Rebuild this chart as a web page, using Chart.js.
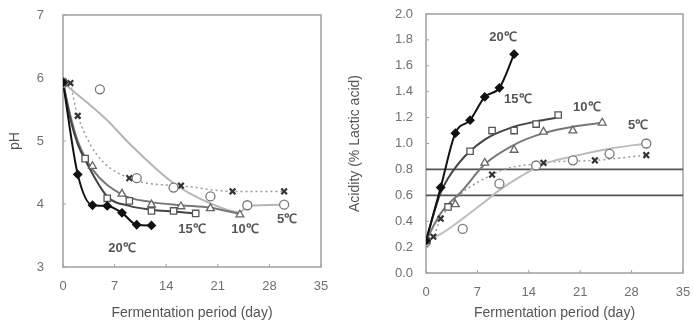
<!DOCTYPE html>
<html>
<head>
<meta charset="utf-8">
<script src="https://cdn.jsdelivr.net/npm/chart.js@4/dist/chart.umd.min.js"></script>
<style>
  body { margin: 0; background: #fff; width: 693px; height: 326px; position: relative; overflow: hidden; }
  #phBox { position: absolute; left: 0; top: 0; width: 340px; height: 326px; }
  #acBox { position: absolute; left: 340px; top: 0; width: 353px; height: 326px; }
</style>
</head>
<body>
<div id="phBox"><canvas id="phChart" width="340" height="326"></canvas></div>
<div id="acBox"><canvas id="acChart" width="353" height="326"></canvas></div>
<script>
// measured points (day, pH / acidity)
const days20 = [0, 2, 4, 6, 8, 10, 12];
const ph20 = [5.93, 4.47, 3.98, 3.97, 3.86, 3.67, 3.66];
const acid20 = [0.25, 0.66, 1.08, 1.18, 1.36, 1.43, 1.69];

const days15 = [0, 3, 6, 9, 12, 15, 18];
const ph15 = [5.93, 4.72, 4.09, 4.05, 3.89, 3.89, 3.85];
const acid15 = [0.25, 0.51, 0.94, 1.10, 1.10, 1.15, 1.22];

const days10 = [0, 4, 8, 12, 16, 20, 24];
const ph10 = [5.93, 4.60, 4.16, 3.99, 3.96, 3.93, 3.83];
const acid10 = [0.25, 0.53, 0.85, 0.95, 1.09, 1.10, 1.16];

const days5 = [0, 5, 10, 15, 20, 25, 30];
const ph5 = [5.92, 5.82, 4.41, 4.26, 4.12, 3.98, 3.99];
const acid5 = [0.24, 0.34, 0.69, 0.83, 0.87, 0.92, 1.00];

const daysX = [1, 2, 9, 16, 23, 30];
const phX = [5.92, 5.40, 4.41, 4.29, 4.20, 4.20];
const acidX = [0.28, 0.42, 0.76, 0.85, 0.87, 0.91];

// trend curves as drawn in the figure
const curveDays15ph = [0, 1, 2, 3, 6, 9, 12, 15, 18];
const curve15ph = [5.93, 5.35, 4.95, 4.70, 4.12, 3.97, 3.91, 3.88, 3.85];
const curveDays10ph = [0, 1, 2, 4, 8, 12, 16, 20, 24];
const curve10ph = [5.93, 5.40, 5.00, 4.55, 4.15, 4.03, 3.98, 3.94, 3.84];
const curveDays5ph = [0, 6, 9, 15, 20, 24, 25, 30];
const curve5ph = [5.93, 5.33, 4.96, 4.33, 4.01, 3.87, 3.97, 3.99];

const curveDays15ac = [0, 2, 4.5, 8, 12, 15, 18];
const curve15ac = [0.25, 0.62, 0.85, 1.03, 1.13, 1.17, 1.20];
const curveDays10ac = [0, 2, 5, 8, 12, 16, 20, 24];
const curve10ac = [0.25, 0.46, 0.64, 0.84, 0.99, 1.08, 1.13, 1.16];
const curveDays5ac = [0, 2, 5, 8, 10, 13, 16, 20, 25, 30];
const curve5ac = [0.25, 0.30, 0.42, 0.55, 0.64, 0.75, 0.84, 0.90, 0.96, 1.00];

const refLevels = [0.8, 0.6];

const dayTicks = [0, 7, 14, 21, 28, 35];

// temperature labels [text, day, value]
const phLabels = [['20℃', 8.0, 3.30], ['15℃', 17.5, 3.59], ['10℃', 24.7, 3.59], ['5℃', 30.4, 3.75]];
const acidLabels = [['20℃', 10.5, 1.82], ['15℃', 12.5, 1.34], ['10℃', 21.9, 1.28], ['5℃', 28.9, 1.14]];

const FONT = "'Liberation Sans', Arial, sans-serif";

function pts(xs, ys) {
    return xs.map((x, i) => ({ x: x, y: ys[i] }));
}

function markers(xs, ys, style, color, fill, r, bw) {
    return {
        data: pts(xs, ys), showLine: false, pointStyle: style,
        pointRadius: r, borderColor: color, backgroundColor: fill,
        pointBorderWidth: bw || 1.3, order: 0
    };
}

function curve(xs, ys, color, width, dash) {
    return {
        data: pts(xs, ys), showLine: true, pointRadius: 0,
        borderColor: color, borderWidth: width, borderDash: dash || [],
        cubicInterpolationMode: 'monotone', order: 5
    };
}

// box, small inner ticks and the temperature labels
const framePlugin = {
    id: 'frame',
    beforeDatasetsDraw(chart) {
        const { ctx, chartArea: a, scales } = chart;
        ctx.save();
        ctx.strokeStyle = '#a0a0a0';
        ctx.lineWidth = 1.5;
        ctx.strokeRect(a.left, a.top, a.right - a.left, a.bottom - a.top);
        ctx.lineWidth = 1;
        scales.x.ticks.forEach(t => {
            const x = scales.x.getPixelForValue(t.value);
            ctx.beginPath(); ctx.moveTo(x, a.bottom); ctx.lineTo(x, a.bottom - 3); ctx.stroke();
        });
        scales.y.ticks.forEach(t => {
            const y = scales.y.getPixelForValue(t.value);
            ctx.beginPath(); ctx.moveTo(a.left, y); ctx.lineTo(a.left + 3, y); ctx.stroke();
        });
        ctx.restore();
    },
    afterDraw(chart, args, opts) {
        const { ctx, scales } = chart;
        ctx.save();
        ctx.font = 'bold 13px ' + FONT;
        ctx.fillStyle = '#555';
        ctx.textAlign = 'center';
        ctx.textBaseline = 'middle';
        (opts.labels || []).forEach(l => {
            ctx.fillText(l[0], scales.x.getPixelForValue(l[1]), scales.y.getPixelForValue(l[2]));
        });
        ctx.restore();
    }
};

function baseOptions(yMin, yMax, yStep, yTitle, yWidth, yPad, xHeight, pad, labels, fmt) {
    return {
        responsive: false,
        animation: false,
        layout: { padding: pad },
        plugins: { legend: { display: false }, tooltip: { enabled: false }, frame: { labels: labels } },
        scales: {
            x: {
                type: 'linear', min: 0, max: 35,
                afterBuildTicks: s => { s.ticks = dayTicks.map(v => ({ value: v })); },
                ticks: { color: '#707070', padding: 12, font: { size: 13, family: FONT } },
                grid: { display: false, drawTicks: false },
                border: { display: false },
                title: { display: true, text: 'Fermentation period (day)', color: '#555',
                         font: { size: 14, family: FONT }, padding: { top: 4, bottom: 4 } },
                afterFit: s => { s.height = xHeight; s.paddingLeft = 0; s.paddingRight = 0; }
            },
            y: {
                min: yMin, max: yMax,
                ticks: { stepSize: yStep, color: '#707070', padding: yPad, font: { size: 13, family: FONT },
                         callback: fmt },
                grid: { display: false, drawTicks: false },
                border: { display: false },
                title: { display: true, text: yTitle, color: '#555',
                         font: { size: 14, family: FONT }, padding: { top: 7, bottom: 4 } },
                afterFit: s => { s.width = yWidth; s.paddingTop = 0; s.paddingBottom = 0; }
            }
        }
    };
}

new Chart(document.getElementById('phChart'), {
    type: 'scatter',
    data: {
        datasets: [
            markers(days20, ph20, 'rectRot', '#111', '#111', 4),
            markers(days15, ph15, 'rect', '#555', '#fff', 4.5),
            markers(days10, ph10, 'triangle', '#666', '#fff', 4.5),
            markers(days5, ph5, 'circle', '#777', '#fff', 4.5),
            markers(daysX, phX, 'crossRot', '#333', '#333', 4, 2.2),
            Object.assign(curve(days20, ph20, '#111', 2), { order: 1 }),
            curve(curveDays15ph, curve15ph, '#444', 2),
            curve(curveDays10ph, curve10ph, '#777', 2),
            curve(curveDays5ph, curve5ph, '#b5b5b5', 2),
            curve(daysX, phX, '#999', 1.5, [2, 3])
        ]
    },
    options: baseOptions(3, 7, 1, 'pH', 63, 19, 59, { top: 15, right: 19 }, phLabels, v => v),
    plugins: [framePlugin]
});

new Chart(document.getElementById('acChart'), {
    type: 'scatter',
    data: {
        datasets: [
            markers(days20, acid20, 'rectRot', '#111', '#111', 4),
            markers(days15, acid15, 'rect', '#555', '#fff', 4.5),
            markers(days10, acid10, 'triangle', '#666', '#fff', 4.5),
            markers(days5, acid5, 'circle', '#777', '#fff', 4.5),
            markers(daysX, acidX, 'crossRot', '#333', '#333', 4, 2.2),
            Object.assign(curve(days20, acid20, '#111', 2), { order: 1 }),
            curve(curveDays15ac, curve15ac, '#444', 2),
            curve(curveDays10ac, curve10ac, '#777', 2),
            curve(curveDays5ac, curve5ac, '#bdbdbd', 2),
            curve([0].concat(daysX), [0.25].concat(acidX), '#999', 1.5, [2, 3]),
            ...refLevels.map(v => curve([0, 35], [v, v], '#555', 1.8))
        ]
    },
    options: baseOptions(0, 2, 0.2, 'Acidity (% Lactic acid)', 86, 13, 53, { top: 14, right: 10 },
                         acidLabels, v => Number(v).toFixed(1)),
    plugins: [framePlugin]
});
</script>
</body>
</html>
